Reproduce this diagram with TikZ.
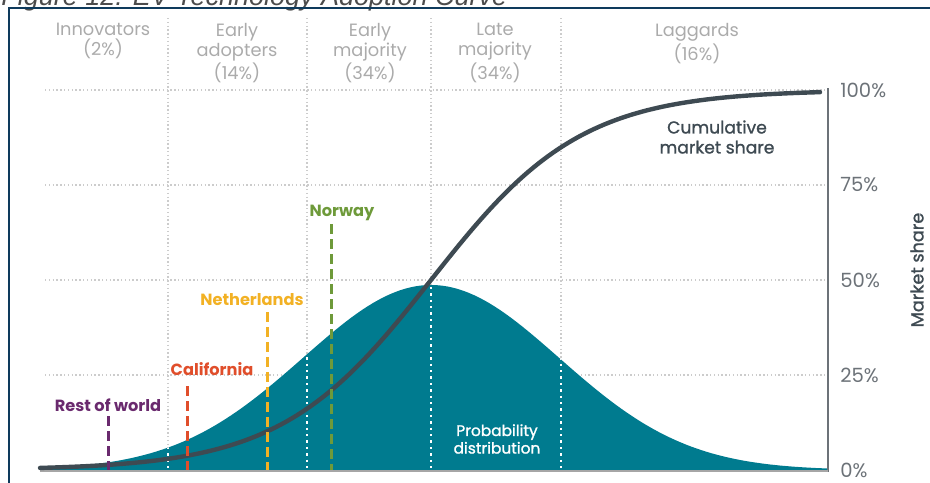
\documentclass[tikz,border=0pt]{standalone}
\usepackage{fontspec}
\setmainfont{Poppins}
\newfontfamily\titlefont{Liberation Sans}
\newfontfamily\medfont{Poppins}[FakeBold=1.2]
\usetikzlibrary{positioning}
\definecolor{frameblue}{HTML}{0E3A5C}
\definecolor{probteal}{HTML}{007B8F}
\definecolor{curvegray}{HTML}{3E4A52}
\definecolor{headgray}{HTML}{ABABAB}
\definecolor{axisgray}{HTML}{6C7278}
\definecolor{rowpurple}{HTML}{6A2A6E}
\definecolor{calred}{HTML}{E04E2B}
\definecolor{nlyellow}{HTML}{F2B124}
\definecolor{nogreen}{HTML}{6E9A3A}
\tikzset{%
  grid/.style={%
    draw=black!20,
    line width=0.7pt,
    dash pattern=on 0.7pt off 1.2pt%
  },
  wdots/.style={%
    draw=white,
    line width=1.4pt,
    dash pattern=on 1.2pt off 2pt%
  },
  hlabel/.style={%
    align=center,
    anchor=north,
    inner sep=0pt,
    text=headgray,
    font=\fontsize{8.9}{10}\selectfont
  },
  pct/.style={%
    anchor=west,
    inner sep=0pt,
    text=axisgray,
    font=\fontsize{9.8}{11}\selectfont
  },
  country/.style={%
    inner sep=0pt,
    font=\bfseries\fontsize{8.1}{9}\selectfont
  },
  marker/.style={%
    line width=1.5pt,
    dash pattern=on 5pt off 2.5pt
  }
}

\begin{document}
\begin{tikzpicture}[x=0.5pt,y=-0.5pt]
  \useasboundingbox (0,0) rectangle (930,482);

  % title, cut by the page edge
  \node[anchor=base west, inner sep=0pt, text=black!70,
        font=\titlefont\itshape\fontsize{13.5}{15}\selectfont] (title) at (1,5)
        {Figure 12: EV Technology Adoption Curve};
  \draw[frameblue, line width=1.2pt] (9,490) -- (9,8) -- (940,8);

  % grid
  \foreach \yy in {90,185,280,375}
    \draw[grid] (45,\yy) -- (828,\yy);
  \foreach \xx in {168,307,431,561}
    \draw[grid] (\xx,18) -- (\xx,470);

  % probability distribution
  \fill[probteal] (40,470)
    -- plot[domain=40:828, samples=150] (\x,{470-185*exp(-0.5*((\x-431)/128)^2)})
    -- (828,470) -- cycle;
  \begin{scope}
    \clip (40,470)
      -- plot[domain=40:828, samples=150] (\x,{470-185*exp(-0.5*((\x-431)/128)^2)})
      -- (828,470) -- cycle;
    \foreach \xx in {168,307,431,561}
      \draw[wdots] (\xx,18) -- (\xx,470);
  \end{scope}

  % axis
  \draw[axisgray, line width=0.6pt] (828,88) -- (828,472);
  \draw[black!35, line width=0.6pt] (40,471) -- (828,471);

  % cumulative curve
  \draw[curvegray, line width=2.2pt, line cap=round]
    plot[domain=40:820, samples=150] (\x,{470-380/(1+exp(-1.702*(\x-431)/128))});

  % headers
  \node[hlabel] (innov) at (103,23) {Innovators\\(2\%)};
  \node[hlabel] (eadopt) at (237,23) {Early\\adopters\\(14\%)};
  \node[hlabel] (emaj) at (370,23) {Early\\majority\\(34\%)};
  \node[hlabel] (lmaj) at (495,23) {Late\\majority\\(34\%)};
  \node[hlabel] (lag) at (697,23) {Laggards\\(16\%)};

  % market share axis
  \node[pct] (p100) at (840,90) {100\%};
  \node[pct] (p75) at (840,185) {75\%};
  \node[pct] (p50) at (840,280) {50\%};
  \node[pct] (p25) at (840,375) {25\%};
  \node[pct] (p0) at (840,470) {0\%};
  \node[rotate=90, inner sep=0pt, text=curvegray,
        font=\medfont\fontsize{8.8}{10}\selectfont] (mshare) at (917,270) {Market share};

  \node[align=center, inner sep=0pt, text=curvegray,
        font=\medfont\fontsize{8.6}{10}\selectfont] (cumul) at (717,137)
        {Cumulative\\market share};
  \node[align=center, inner sep=0pt, text=white,
        font=\medfont\fontsize{7.7}{8.8}\selectfont] (prob) at (497,439)
        {Probability\\distribution};

  % countries
  \node[country, text=rowpurple] (row) at (108,405) {Rest of world};
  \node[country, text=calred] (cal) at (212,369) {California};
  \node[country, text=nlyellow] (nl) at (252,300) {Netherlands};
  \node[country, text=nogreen] (nor) at (342,213) {Norway};
  \coordinate (rowt) at (108,416);
  \coordinate (rowb) at (108,470);
  \coordinate (calt) at (187,386);
  \coordinate (calb) at (187,470);
  \coordinate (nlt) at (267,312);
  \coordinate (nlb) at (267,470);
  \coordinate (nort) at (331,224);
  \coordinate (norb) at (331,470);
  \draw[marker, rowpurple] (rowt) -- (rowb);
  \draw[marker, calred] (calt) -- (calb);
  \draw[marker, nlyellow] (nlt) -- (nlb);
  \draw[marker, nogreen] (nort) -- (norb);
\end{tikzpicture}
\end{document}
